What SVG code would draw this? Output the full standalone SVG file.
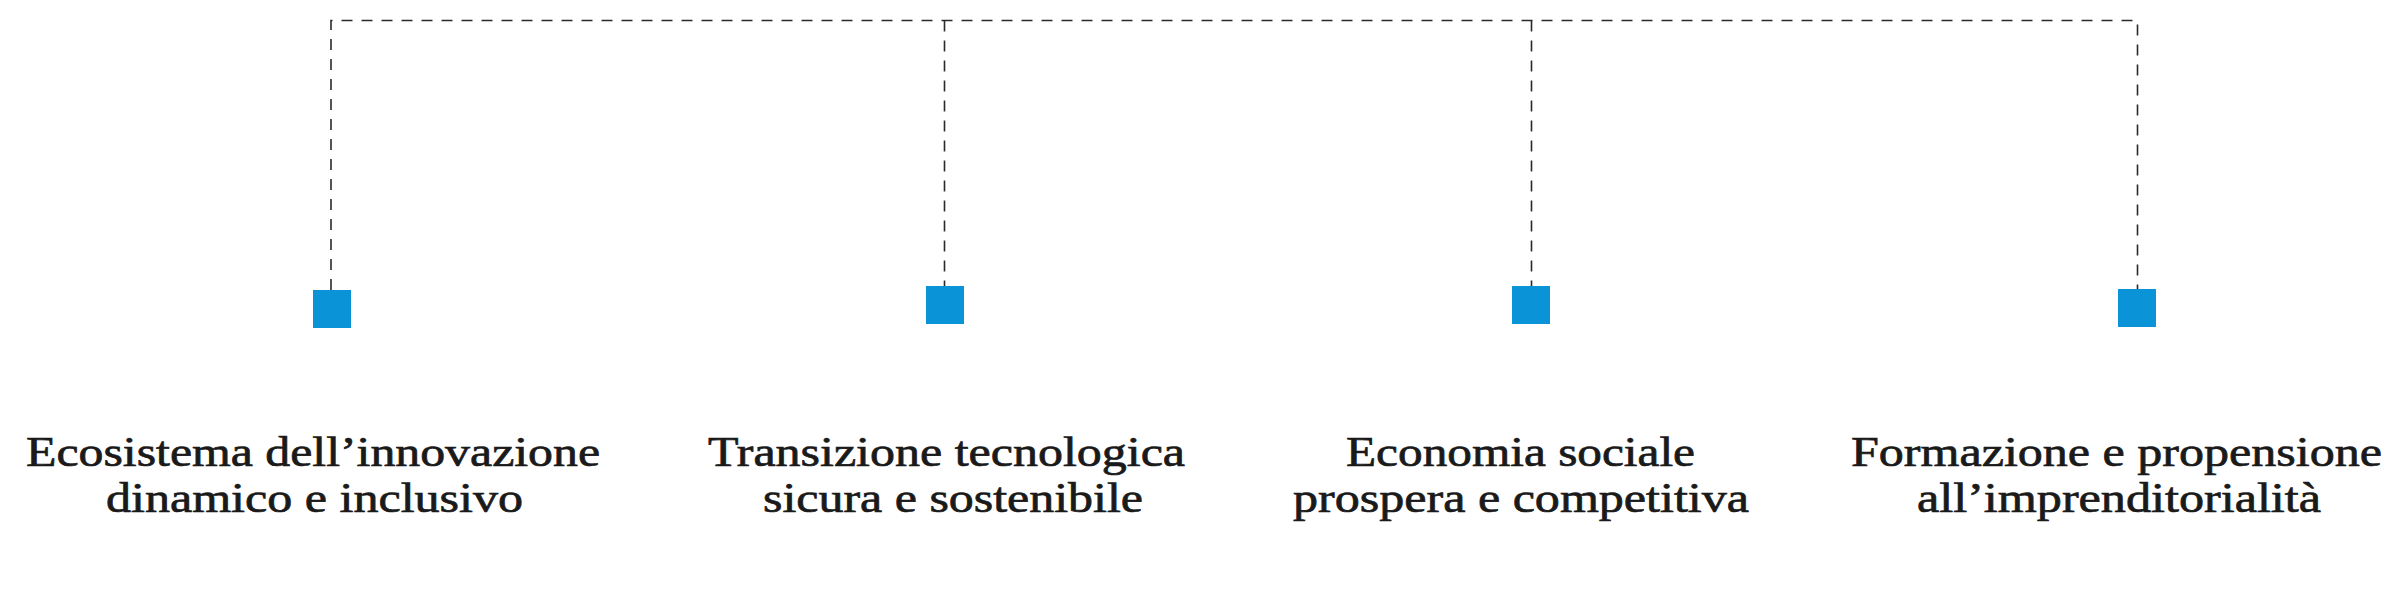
<svg xmlns="http://www.w3.org/2000/svg" width="2400" height="609" viewBox="0 0 2400 609">
<style>
.conn{fill:none;stroke:#2a2a2a;stroke-width:1.6;stroke-dasharray:11 9}
.node{fill:#0a93d6}
.lbl{font-family:"Liberation Serif","Times New Roman",serif;font-size:41.5px;fill:#1a1a1a;stroke:#1a1a1a;stroke-width:0.7;text-anchor:middle}
</style>
<rect width="2400" height="609" fill="#fff"/>
<g id="connectors">
<path class="conn" d="M331,290 V20.5 H2137.5 V289"/>
<path class="conn" d="M944.5,20.5 V286"/>
<path class="conn" d="M1531.5,20.5 V286"/>
</g>
<g id="node1">
<rect class="node" x="313" y="290" width="38" height="38"/>
<text class="lbl" x="313" y="466" textLength="574" lengthAdjust="spacingAndGlyphs">Ecosistema dell’innovazione</text>
<text class="lbl" x="314.5" y="512" textLength="417" lengthAdjust="spacingAndGlyphs">dinamico e inclusivo</text>
</g>
<g id="node2">
<rect class="node" x="926" y="286" width="38" height="38"/>
<text class="lbl" x="946.5" y="466" textLength="477" lengthAdjust="spacingAndGlyphs">Transizione tecnologica</text>
<text class="lbl" x="953" y="512" textLength="380" lengthAdjust="spacingAndGlyphs">sicura e sostenibile</text>
</g>
<g id="node3">
<rect class="node" x="1512" y="286" width="38" height="38"/>
<text class="lbl" x="1520.5" y="466" textLength="349" lengthAdjust="spacingAndGlyphs">Economia sociale</text>
<text class="lbl" x="1521" y="512" textLength="456" lengthAdjust="spacingAndGlyphs">prospera e competitiva</text>
</g>
<g id="node4">
<rect class="node" x="2118" y="289" width="38" height="38"/>
<text class="lbl" x="2116.5" y="466" textLength="531" lengthAdjust="spacingAndGlyphs">Formazione e propensione</text>
<text class="lbl" x="2119" y="512" textLength="404" lengthAdjust="spacingAndGlyphs">all’imprenditorialità</text>
</g>
</svg>
